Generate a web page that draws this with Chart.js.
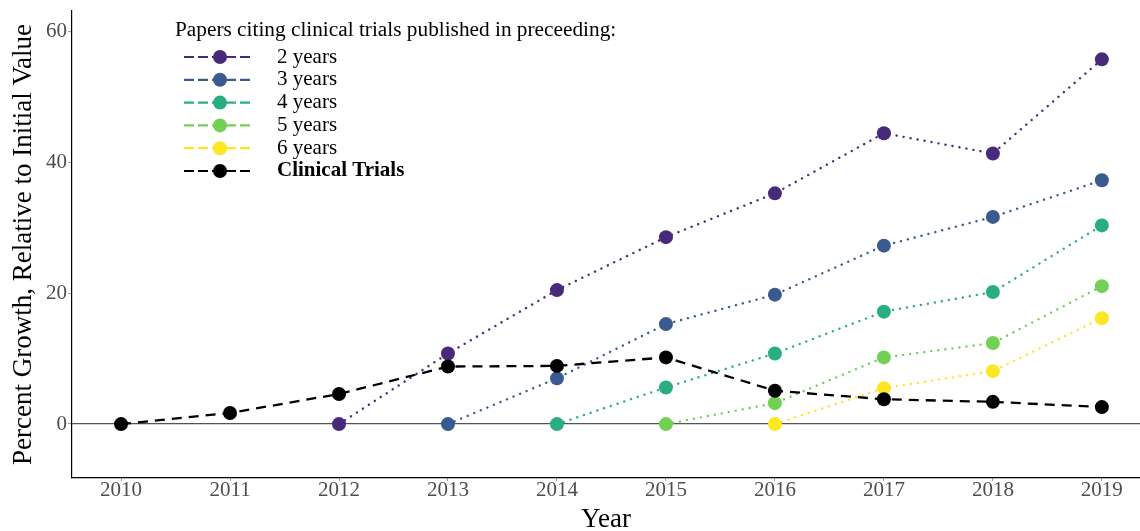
<!DOCTYPE html>
<html><head><meta charset="utf-8">
<script src="https://cdn.jsdelivr.net/npm/chart.js@4"></script>
<style>html,body{margin:0;padding:0;background:#fff}#wrap{width:1140px;height:531px}</style>
</head><body><div id="wrap"><canvas id="c" width="1140" height="531"></canvas></div>
<script>
const years = [2010,2011,2012,2013,2014,2015,2016,2017,2018,2019];
const seriesNames = ["2 years","3 years","4 years","5 years","6 years","Clinical Trials"];
const twoYears    = [null,null,0,10.8,20.5,28.6,35.3,44.5,41.4,55.8];
const threeYears  = [null,null,null,0,7.0,15.3,19.8,27.3,31.7,37.3];
const fourYears   = [null,null,null,null,0,5.6,10.8,17.2,20.2,30.4];
const fiveYears   = [null,null,null,null,null,0,3.2,10.2,12.4,21.1];
const sixYears    = [null,null,null,null,null,null,0,5.5,8.1,16.2];
const clinical    = [0,1.7,4.6,8.8,8.9,10.2,5.1,3.8,3.4,2.6];
const yTicks = [0,20,40,60];
const legendTitle = "Papers citing clinical trials published in preceeding:";
const xTitle = "Year";
const yTitle = "Percent Growth, Relative to Initial Value";

const colors = ["#472B7A","#3A5B8F","#29AF7F","#74D055","#FDE725","#000000"];
const allSeries = [twoYears,threeYears,fourYears,fiveYears,sixYears,clinical];
const FONT = "'Liberation Serif','DejaVu Serif',serif";

const datasets = allSeries.map((vals,i)=>({
  label: seriesNames[i],
  data: years.map((y,j)=>vals[j]===null?null:{x:y,y:vals[j]}).filter(p=>p),
  borderColor: colors[i],
  backgroundColor: colors[i],
  borderWidth: i===5?2.3:2.4,
  borderDash: i===5?[10,7]:[0.1,7],
  borderCapStyle: i===5?'butt':'round',
  pointRadius: 7,
  pointHoverRadius: 7,
  pointBorderWidth: 0,
  tension: 0,
  order: i===5?0:6-i
}));

const legendPlugin = {
  id:'customLegend',
  afterDraw(chart){
    const ctx = chart.ctx;
    ctx.save();
    ctx.fillStyle = '#000';
    ctx.font = "21.3px " + FONT;
    ctx.textBaseline = 'middle';
    ctx.textAlign = 'left';
    ctx.fillText(legendTitle, 175, 30);
    chart.data.datasets.forEach((ds,i)=>{
      const y = 57 + i*22.8;
      ctx.strokeStyle = ds.borderColor;
      ctx.lineWidth = 2.2;
      ctx.setLineDash([10,4]);
      ctx.beginPath(); ctx.moveTo(184,y); ctx.lineTo(251,y); ctx.stroke();
      ctx.setLineDash([]);
      ctx.fillStyle = ds.borderColor;
      ctx.beginPath(); ctx.arc(220,y,7,0,Math.PI*2); ctx.fill();
      ctx.fillStyle = '#000';
      ctx.font = (i===5?"bold ":"") + "21px " + FONT;
      ctx.fillText(ds.label, 277, y);
    });
    ctx.restore();
  }
};

new Chart(document.getElementById('c'), {
  type:'line',
  data:{datasets},
  plugins:[legendPlugin],
  options:{
    responsive:false, animation:false,
    layout:{autoPadding:false,padding:{top:11,right:0,left:0,bottom:0}},
    plugins:{legend:{display:false},tooltip:{enabled:false}},
    scales:{
      x:{type:'linear',min:2009.55,max:2019.35,
        afterBuildTicks(s){s.ticks = years.map(v=>({value:v}));},
        afterFit(s){s.height=53; s.paddingLeft=0; s.paddingRight=0;},
        grid:{drawOnChartArea:false,drawTicks:true,tickLength:3,tickColor:'#999',tickWidth:1},
        border:{display:true,color:'#000',width:1.2},
        ticks:{color:'#4D4D4D',font:{family:FONT,size:21},padding:-3,callback:v=>String(v),maxRotation:0},
        title:{display:true,text:xTitle,color:'#000',font:{family:FONT,size:27,lineHeight:1},padding:{top:0,bottom:-2}}
      },
      y:{type:'linear',min:-8.25,max:63.2,
        afterBuildTicks(s){s.ticks = yTicks.map(v=>({value:v}));},
        afterFit(s){s.width=72; s.paddingTop=0; s.paddingBottom=0;},
        grid:{drawOnChartArea:true,drawTicks:true,tickLength:4,tickWidth:1,tickColor:'#999',
          color:c=>c.tick && c.tick.value===0?'#555':'rgba(0,0,0,0)',lineWidth:1.2},
        border:{display:true,color:'#000',width:1.2},
        ticks:{color:'#4D4D4D',font:{family:FONT,size:21},padding:1},
        title:{display:true,text:yTitle,color:'#000',font:{family:FONT,size:27,lineHeight:1},padding:{top:10,bottom:0}}
      }
    }
  }
});
</script></body></html>
